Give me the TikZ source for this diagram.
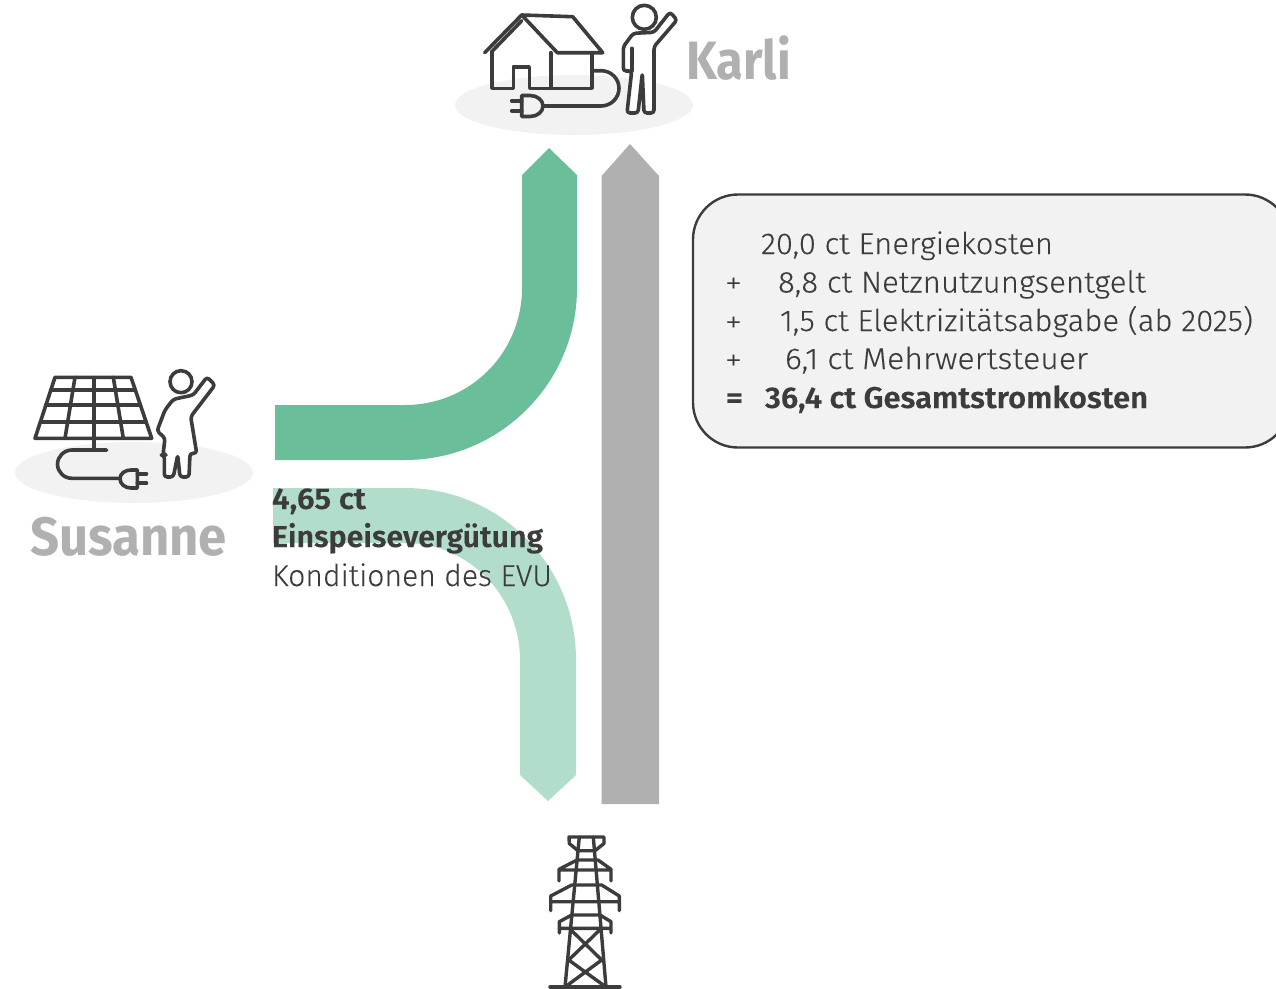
\documentclass[tikz,border=0pt]{standalone}
\usepackage{graphicx}
\usepackage{fontspec}
\setmainfont{Fira Sans Light}[BoldFont={Fira Sans SemiBold},FakeBold=0.15]
\newfontfamily\heavyfont{Fira Sans}
\definecolor{band}{HTML}{6BBE9A}
\definecolor{bandlight}{HTML}{B1DDCA}
\definecolor{greyband}{HTML}{B0B0B0}
\definecolor{pale}{HTML}{F2F2F2}
\definecolor{ink}{HTML}{3C3C3C}
\newcommand\fw[2]{\resizebox{#1pt}{\height}{#2}}
\tikzset{
  icon/.style={draw=ink,line width=3.6pt,line join=round,line cap=round},
  body/.style={icon,fill=white,rounded corners=3pt},
  txt/.style={anchor=base west,inner sep=0pt,outer sep=0pt,text=ink,font=\fontsize{30}{36}\selectfont},
  btxt/.style={txt,font=\fontsize{30}{36}\selectfont\bfseries},
  who/.style={anchor=base west,inner sep=0pt,outer sep=0pt,text=greyband,font=\fontsize{54}{60}\selectfont\heavyfont\bfseries},
}
\begin{document}
\begin{tikzpicture}[x=1pt,y=-1pt]
\useasboundingbox (0,0) rectangle (1276,988);
\clip (0,0) rectangle (1276,988);
% ground ellipses
\fill[pale] (574,105) ellipse [x radius=119,y radius=30];
\fill[pale] (134,472.5) ellipse [x radius=119,y radius=30.5];
% bands
\fill[bandlight] (273,488) -- (405,488) .. controls (500,488) and (576,565) .. (576,660) -- (576,775) -- (548,801) -- (520,775) -- (520,660) .. controls (520,596) and (469,543) .. (405,543) -- (273,543) -- cycle;
\fill[band] (275,405) -- (405,405) .. controls (470,405) and (522,353) .. (522,288) -- (522,175) -- (549,148) -- (577,175) -- (577,288) .. controls (577,383) and (500,460) .. (405,460) -- (275,460) -- cycle;
\fill[greyband] (601.5,804) -- (601.5,176) -- (630,144) -- (659,176) -- (659,804) -- cycle;
% cost box
\draw[draw=ink,line width=2.4pt,fill=pale,rounded corners=45pt] (693,194.5) rectangle (1290,447.5);
% house
\draw[icon] (484.7,52.7) -- (521.7,15) -- (557.3,52.7) -- (602.7,52.7) -- (572.7,16.7) -- (521.7,15);
\draw[icon] (491.7,51.7) -- (521.7,20.7);
\draw[icon] (491.7,51.7) -- (491.7,88.3) -- (513.3,88.3) -- (513.3,66.7) -- (529.3,66.7) -- (529.3,88.3) -- (591.7,88.3) -- (591.7,52.7);
\draw[icon] (550.7,52.7) -- (550.7,88.3);
\draw[icon] (591.7,70.7) -- (601,70.7) .. controls (611,70.7) and (619,78.5) .. (619,88.3) .. controls (619,98) and (611,106) .. (601,106) -- (543,106);
\draw[icon] (521.7,95.5) -- (530,95.5) .. controls (537,95.5) and (543,100) .. (543,106) .. controls (543,112) and (537,116.5) .. (530,116.5) -- (521.7,116.5) -- cycle;
\draw[icon] (511.7,100.7) -- (521.7,100.7) (511.7,110.7) -- (521.7,110.7);
% Karli figure
\draw[icon] (644.3,17.3) circle [radius=12];
\draw[body] (654,32.3) -- (633.3,33.3) -- (623.3,46.7) -- (623.3,71) -- (631.7,71) -- (627,113) -- (638,113) -- (642.3,73.3) -- (644,113) -- (654,113) -- (654,46.7) -- (677,20) -- (670,12) -- cycle;
\draw[icon] (631.7,48.3) -- (631.7,71);
% solar panel
\draw[icon] (55,377.3) -- (131,377.3) -- (151.7,438.3) -- (35,438.3) -- cycle;
\draw[icon] (50.7,390) -- (135.3,390) (45.7,405) -- (140.3,405) (40.5,421.7) -- (146,421.7);
\draw[icon] (75,377.3) -- (65,438.3) (94,377.3) -- (94,438.3) (113.3,377.3) -- (123.3,438.3);
\draw[icon] (94,438.3) -- (94,450);
\draw[icon] (106.7,450) -- (72,450) .. controls (64,450) and (57.5,456.5) .. (57.5,464.2) .. controls (57.5,472) and (64,478.3) .. (72,478.3) -- (120,478.3);
\draw[icon] (137.3,470) -- (131,470) .. controls (125,470) and (120,473.5) .. (120,478.8) .. controls (120,484) and (125,488) .. (131,488) -- (137.3,488) -- cycle;
\draw[icon] (137.3,473.7) -- (146.5,473.7) (137.3,483.2) -- (146.5,483.2);
% Susanne figure
\draw[icon] (181,381.7) circle [radius=11];
\draw[body] (193.3,395) -- (173.3,399.3) -- (165,410) -- (157,431) -- (165,438) -- (163,455) -- (164.3,455) -- (164.3,477) -- (173.3,477) -- (177.7,455) -- (180,477) -- (189,477) -- (190,453.3) -- (196.7,453.3) -- (190.7,416.7) -- (215,385) -- (207,377) -- cycle;
% pylon
\begin{scope}[icon,line width=3.4pt]
\draw (569,837) -- (604,837) -- (604,843.5) -- (595,850.7) -- (578,850.7) -- (569.3,843.5) -- cycle;
\draw (579.3,837) -- (565,987) (593.3,837) -- (606,987);
\draw (577,860) -- (598,860) (559,870) -- (611,870) (598,860) -- (611,869.3) -- (611,881) (577,860) -- (559,869.3) -- (559,881);
\draw (571.7,885) -- (601.7,885) -- (619.3,896) -- (619.3,910.7) (571.7,885) -- (550.7,896) -- (550.7,910.7) (550.7,901.7) -- (619.3,901.7);
\draw (571.7,915) -- (600,915) -- (611,921.7) -- (611,933) (571.7,915) -- (559.3,921.7) -- (559.3,933) (559.3,928.3) -- (611,928.3);
\draw (570,929) -- (601.7,960) -- (565,987) (600.7,929) -- (568.7,960) -- (606,987);
\draw (550,987) -- (620,987);
\end{scope}
% names
\node[who] (karli) at (686,79.5) {\fw{105}{Karli}};
\node[who] (susanne) at (30,555) {\fw{197}{Susanne}};
% left label
\node[btxt] (t1) at (272,509) {\fw{94}{4,65 ct}};
\node[btxt] (t2) at (272,547) {\fw{271}{Einspeisevergütung}};
\node[txt] (t3) at (272,586) {\fw{280}{Konditionen des EVU}};
% cost lines
\node[txt] (c1) at (761,254) {\fw{292}{20,0 ct Energiekosten}};
\node[txt] (p2) at (725,293) {\fw{17}{+}};
\node[txt] (c2) at (778,292.5) {\fw{368}{8,8 ct Netznutzungsentgelt}};
\node[txt] (p3) at (725,332) {\fw{17}{+}};
\node[txt] (c3) at (780,331) {\fw{473}{1,5 ct Elektrizitätsabgabe (ab 2025)}};
\node[txt] (p4) at (725,370) {\fw{17}{+}};
\node[txt] (c4) at (785,369) {\fw{303}{6,1 ct Mehrwertsteuer}};
\node[btxt] (p5) at (726,408) {\fw{17}{=}};
\node[btxt] (c5) at (765,408) {\fw{383}{36,4 ct Gesamtstromkosten}};
\end{tikzpicture}
\end{document}
